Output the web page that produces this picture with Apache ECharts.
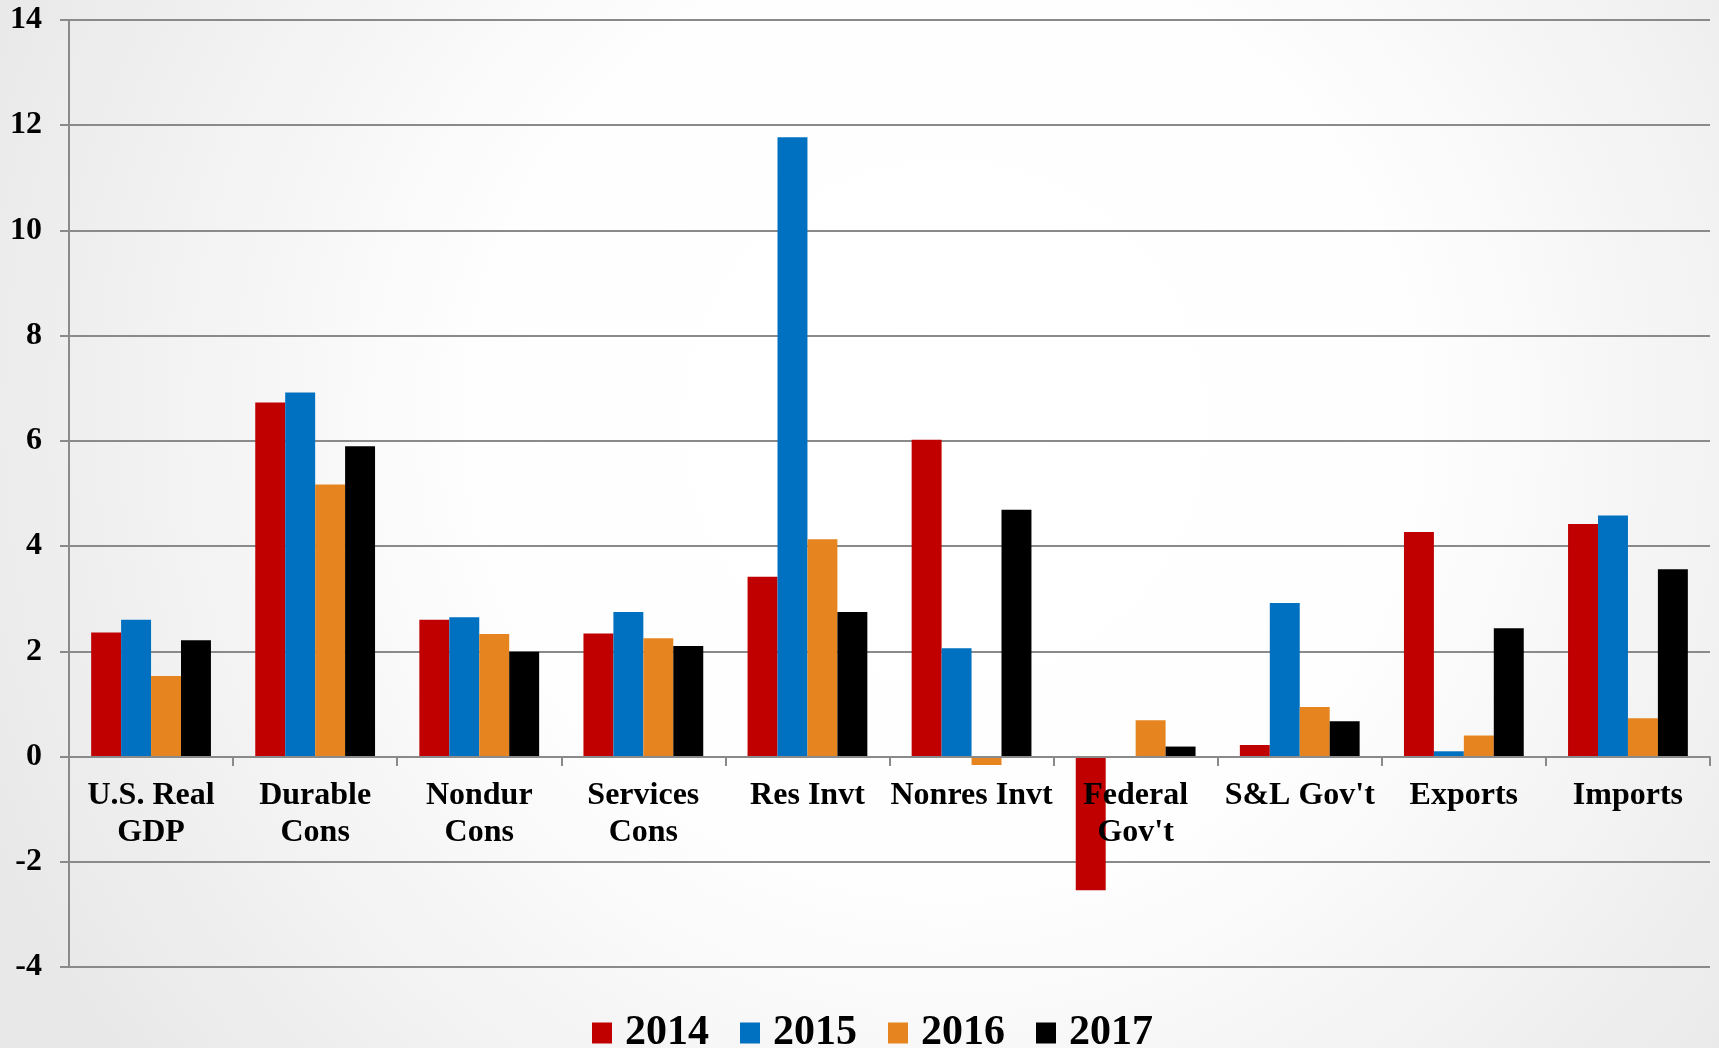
<!DOCTYPE html>
<html>
<head>
<meta charset="utf-8">
<script src="https://cdn.jsdelivr.net/npm/echarts@6/dist/echarts.min.js"></script>
<style>
html,body{margin:0;padding:0;width:1719px;height:1048px;overflow:hidden;}
#chart{width:1719px;height:1048px;}
</style>
</head>
<body>
<div id="chart"></div>
<script>
const categories = ["U.S. Real\nGDP", "Durable\nCons", "Nondur\nCons", "Services\nCons", "Res Invt", "Nonres Invt", "Federal\nGov't", "S&L Gov't", "Exports", "Imports"];
const seriesNames = ["2014", "2015", "2016", "2017"];
const v2014 = [2.36, 6.73, 2.60, 2.34, 3.42, 6.02, -2.54, 0.22, 4.27, 4.42];
const v2015 = [2.60, 6.92, 2.65, 2.75, 11.77, 2.06, 0.0, 2.92, 0.10, 4.58];
const v2016 = [1.53, 5.17, 2.33, 2.25, 4.13, -0.16, 0.69, 0.94, 0.40, 0.73];
const v2017 = [2.21, 5.90, 1.99, 2.10, 2.75, 4.69, 0.19, 0.67, 2.44, 3.56];
const colors = ["#C00000", "#0070C0", "#E6851F", "#000000"];

const FONT = "'Liberation Serif','Times New Roman',serif";
const chart = echarts.init(document.getElementById('chart'), null, {renderer: 'canvas'});
const values = [v2014, v2015, v2016, v2017];
chart.setOption({
  animation: false,
  backgroundColor: {
    type: 'radial', x: 0.55, y: 0.4, r: 1.0,
    colorStops: [
      {offset: 0, color: '#ffffff'},
      {offset: 0.45, color: '#fefefe'},
      {offset: 1, color: '#e8e8e8'}
    ]
  },
  color: colors,
  grid: {left: 69, right: 9, top: 20, bottom: 81, containLabel: false},
  legend: {
    top: 1007,
    left: 587,
    itemWidth: 20,
    itemHeight: 21,
    itemGap: 31,
    icon: 'rect',
    data: seriesNames,
    textStyle: {fontFamily: FONT, fontWeight: 'bold', fontSize: 42, color: '#000', lineHeight: 42, padding: [0, 0, 0, 8]}
  },
  xAxis: {
    type: 'category',
    data: categories,
    z: 3,
    position: 'bottom',
    offset: -210,
    axisLine: {onZero: false, lineStyle: {color: '#8a8a8a', width: 2}},
    axisTick: {show: true, length: 9, inside: false, alignWithLabel: false, lineStyle: {color: '#8a8a8a', width: 2}},
    axisLabel: {
      interval: 0,
      margin: 20,
      fontFamily: FONT, fontWeight: 'bold', fontSize: 32, color: '#000', lineHeight: 37
    },
    splitLine: {show: false}
  },
  yAxis: {
    type: 'value',
    min: -4, max: 14, interval: 2,
    axisLine: {show: true, lineStyle: {color: '#8a8a8a', width: 2}},
    axisTick: {show: true, length: 9, lineStyle: {color: '#8a8a8a', width: 2}},
    axisLabel: {margin: 27, fontFamily: FONT, fontWeight: 'bold', fontSize: 32, color: '#000'},
    splitLine: {show: true, lineStyle: {color: '#8a8a8a', width: 2}}
  },
  series: seriesNames.map((n, i) => ({
    name: n,
    type: 'bar',
    data: values[i],
    barGap: '0%',
    barCategoryGap: '27%',
    itemStyle: {color: colors[i]}
  }))
});
</script>
</body>
</html>
